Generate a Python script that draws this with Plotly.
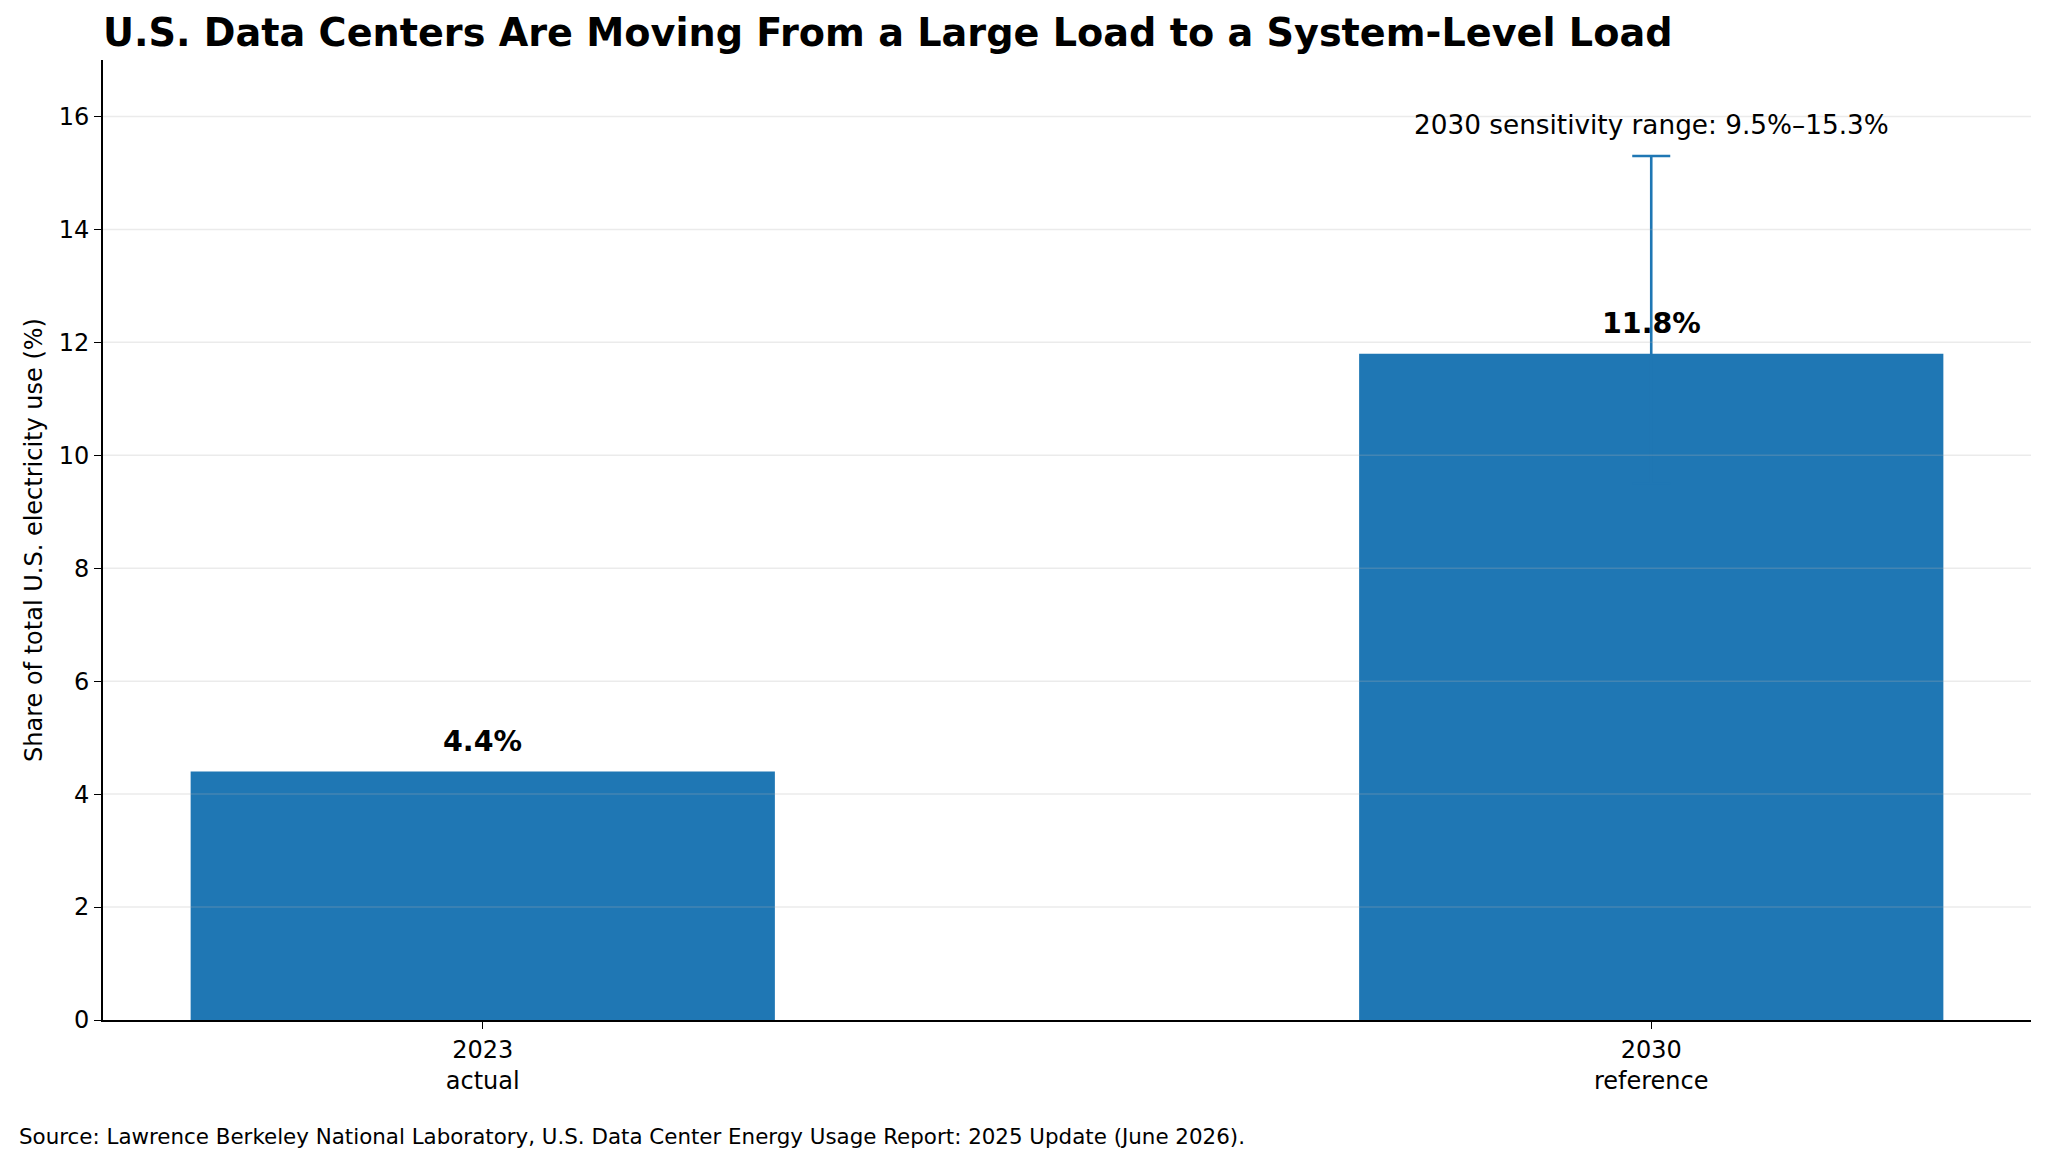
import plotly.graph_objects as go

# data
years = ["2023", "2030"]
year_notes = ["actual", "reference"]
share_pct = [4.4, 11.8]
range_year = "2030"
range_low = 9.5
range_high = 15.3
y_ticks = [0, 2, 4, 6, 8, 10, 12, 14, 16]

BLUE = "#1f77b4"
FONT = "DejaVu Sans"

fig = go.Figure()

fig.add_trace(go.Bar(
    x=years, y=share_pct, width=0.5,
    marker=dict(color=BLUE, line=dict(width=0)),
    hoverinfo="skip", showlegend=False,
))

# sensitivity range as an error bar on the 2030 bar
idx = years.index(range_year)
mid = share_pct[idx]
fig.add_trace(go.Scatter(
    x=[range_year], y=[mid], mode="markers",
    marker=dict(size=1, color=BLUE),
    error_y=dict(type="data", symmetric=False,
                 array=[range_high - mid], arrayminus=[mid - range_low],
                 color=BLUE, thickness=2.6, width=19),
    hoverinfo="skip", showlegend=False,
))

# bar value labels (category axis -> annotations use the category index)
for i, v in enumerate(share_pct):
    fig.add_annotation(x=i, y=v + 0.2, text=f"<b>{v:.1f}%</b>", showarrow=False,
                       yanchor="bottom", font=dict(size=28.5, color="black", family=FONT))

fig.add_annotation(x=idx, y=range_high + 0.25,
                   text=f"{range_year} sensitivity range: {range_low}%–{range_high}%",
                   showarrow=False, yanchor="bottom",
                   font=dict(size=26.3, color="black", family=FONT))

# grid drawn over the bars, like the original
for t in y_ticks[1:]:
    fig.add_shape(type="line", xref="paper", yref="y", x0=0, x1=1, y0=t, y1=t,
                  layer="above", line=dict(color="rgba(176,176,176,0.25)", width=1.5))

fig.add_annotation(
    xref="paper", yref="paper", x=-0.0446, y=-0.121, xanchor="left", yanchor="middle",
    text="Source: Lawrence Berkeley National Laboratory, U.S. Data Center Energy Usage Report: 2025 Update (June 2026).",
    showarrow=False, font=dict(size=21.4, color="black", family=FONT))

fig.update_layout(
    width=2040, height=1157,
    margin=dict(l=95, r=17, t=52, b=145),
    paper_bgcolor="white", plot_bgcolor="white",
    font=dict(family=FONT, color="black"),
    title=dict(text="<b>U.S. Data Centers Are Moving From a Large Load to a System-Level Load</b>",
               x=0, xanchor="left", xref="paper",
               y=1 - 25 / 1157, yanchor="middle", yref="container",
               font=dict(size=38.2, color="black", family=FONT)),
    xaxis=dict(
        type="category", range=[-0.325, 1.325],
        tickvals=years, ticktext=[f"{y}<br>{n}" for y, n in zip(years, year_notes)],
        tickfont=dict(size=24), ticks="outside", ticklen=7, tickwidth=1.3, tickcolor="black",
        showline=True, linecolor="black", linewidth=2, showgrid=False, zeroline=False,
    ),
    yaxis=dict(
        range=[0, 17], tickvals=y_ticks, tickfont=dict(size=24),
        ticks="outside", ticklen=7, tickwidth=1.3, tickcolor="black",
        showline=True, linecolor="black", linewidth=2, showgrid=False, zeroline=False,
        title=dict(text="Share of total U.S. electricity use (%)", font=dict(size=24), standoff=9),
    ),
)

fig.write_html("out.html")
